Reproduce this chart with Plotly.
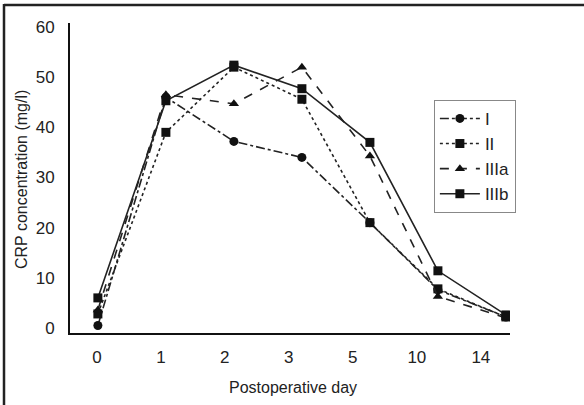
import plotly.graph_objects as go

days = ["0", "1", "2", "3", "5", "10", "14"]
series_names = ["I", "II", "IIIa", "IIIb"]
vals_I = [0.5, 46.0, 37.2, 34.0, 21.0, 7.6, 2.2]
vals_II = [2.8, 39.0, 52.0, 45.6, 21.0, 7.8, 2.2]
vals_IIIa = [3.6, 46.5, 44.7, 52.0, 34.3, 6.3, 2.0]
vals_IIIb = [6.0, 45.3, 52.4, 47.7, 37.0, 11.4, 2.6]

FONT = "Liberation Sans, Arial, sans-serif"

# point positions are index-based; tick labels sit slightly left of points
pt_x = list(range(len(days)))
tick_x = [-0.015 + 0.941 * i for i in range(len(days))]

styles = [
    dict(dash="dashdot", symbol="circle", size=9),
    dict(dash="dot", symbol="square", size=9),
    dict(dash="dash", symbol="triangle-up", size=9),
    dict(dash="solid", symbol="square", size=9),
]
all_vals = [vals_I, vals_II, vals_IIIa, vals_IIIb]

fig = go.Figure()
for name, vals, st in zip(series_names, all_vals, styles):
    fig.add_trace(go.Scatter(
        x=pt_x, y=vals, name=name, mode="lines+markers",
        line=dict(color="#222", width=1.6, dash=st["dash"]),
        marker=dict(color="#111", symbol=st["symbol"], size=st["size"]),
    ))

fig.update_layout(
    width=584, height=405,
    margin=dict(l=70, r=74, t=23, b=72),
    paper_bgcolor="white", plot_bgcolor="white",
    font=dict(family=FONT, size=17, color="#222"),
    showlegend=True,
    legend=dict(x=0.827, y=0.752, xanchor="left", yanchor="top",
                bordercolor="#888", borderwidth=1,
                font=dict(family=FONT, size=17, color="#222"),
                bgcolor="white", itemwidth=40, tracegroupgap=0),
    xaxis=dict(range=[-0.41, 6.06], tickmode="array", tickvals=tick_x,
               ticktext=days, showgrid=False, zeroline=False,
               showline=True, linecolor="#111", linewidth=2,
               ticks="", ticklabelstandoff=8),
    yaxis=dict(range=[-1.0, 60.8], tickvals=[0, 10, 20, 30, 40, 50, 60],
               showgrid=False, zeroline=False,
               showline=True, linecolor="#111", linewidth=2,
               ticks="", ticklabelstandoff=10),
    annotations=[
        dict(text="CRP concentration (mg/l)", xref="paper", yref="paper",
             x=(21 - 70) / 440, y=(333 - 180) / 310, textangle=-90,
             xanchor="center", yanchor="middle",
             showarrow=False, font=dict(family=FONT, size=16, color="#222")),
        dict(text="Postoperative day", xref="paper", yref="paper",
             x=(293 - 70) / 440, y=(333 - 387) / 310,
             xanchor="center", yanchor="middle",
             showarrow=False, font=dict(family=FONT, size=16, color="#222")),
    ],
    shapes=[
        dict(type="line", xref="paper", yref="paper",
             x0=(4 - 70) / 440, x1=(584 - 70) / 440,
             y0=(333 - 5) / 310, y1=(333 - 5) / 310,
             line=dict(color="#222", width=2.5)),
        dict(type="line", xref="paper", yref="paper",
             x0=(4 - 70) / 440, x1=(4 - 70) / 440,
             y0=(333 - 4) / 310, y1=(333 - 410) / 310,
             line=dict(color="#222", width=2.5)),
    ],
)

fig.write_html("out.html")
